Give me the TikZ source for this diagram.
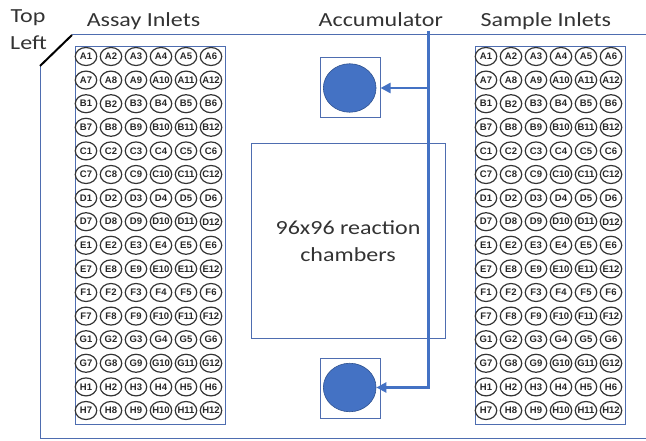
\documentclass[tikz,border=0pt]{standalone}
\usepackage{fontspec}
\setmainfont{Carlito}[FakeStretch=1.2]
\newfontfamily\lblfont{Liberation Sans}
\usetikzlibrary{arrows.meta,shapes.geometric}
\definecolor{chipblue}{HTML}{4472C4}
\definecolor{framecol}{HTML}{4E6DB0}
\definecolor{dotedge}{HTML}{2F528F}
\definecolor{wellcol}{HTML}{333333}
\newcommand\rowletter[1]{\ifcase#1 A\or B\or C\or D\or E\or F\or G\or H\fi}
\begin{document}
\begin{tikzpicture}[x=1pt,y=-1pt,
  frame/.style={draw=framecol,line width=1pt},
  plate/.style={frame,minimum width=150pt,minimum height=377pt,inner sep=0pt},
  well/.style={ellipse,draw=wellcol,line width=1.2pt,minimum width=21.5pt,minimum height=18pt,inner sep=0pt},
  welltext/.style={inner sep=0pt,font=\lblfont\bfseries\fontsize{9.5}{9.5}\selectfont,text=black!85},
  title/.style={inner sep=0pt,anchor=base,font=\fontsize{20}{27}\selectfont,text=black!80},
  accbox/.style={frame,minimum width=60pt,minimum height=60pt,inner sep=0pt},
  accdot/.style={ellipse,fill=chipblue,draw=dotedge,line width=0.6pt,minimum width=52.7pt,minimum height=48.5pt,inner sep=0pt},
  conn/.style={draw=chipblue,line width=2.3pt,-{Triangle[length=10pt,width=10pt]}},
]
\useasboundingbox (0,0) rectangle (646,441);
% outer chip outline
\coordinate (c0) at (40,66);
\coordinate (c1) at (72,35);
\coordinate (c2) at (646,35);
\coordinate (c3) at (40,438);
\coordinate (c4) at (646,438);
\draw[frame] (c1) -- (c2);
\draw[frame] (c0) -- (c3) -- (c4);
\draw[black,line width=2pt] (c0) -- (c1);
% titles
\node[title] (tTop) at (28,23) {Top};
\node[title] (tLeft) at (28.5,50) {Left};
\node[title] (tAssay) at (143.5,26.7) {Assay Inlets};
\node[title] (tAcc) at (380.8,26.7) {Accumulator};
\node[title] (tSample) at (545.8,26.7) {Sample Inlets};
% plates
\node[plate] (assay) at (150.7,235.5) {};
\node[plate] (sample) at (550.7,235.5) {};
\foreach \r in {0,...,15}{
  \foreach \c in {0,...,5}{
    \pgfmathtruncatemacro\num{\c+1+6*mod(\r,2)}
    \pgfmathtruncatemacro\li{div(\r,2)}
    \node[well] (aw-\r-\c) at ({86+25*\c},{56.5+23.6*\r}) {};
    \node[welltext] (awt-\r-\c) at (aw-\r-\c.center) {\rowletter{\li}\num};
    \node[well] (sw-\r-\c) at ({486+25*\c},{56.5+23.6*\r}) {};
    \node[welltext] (swt-\r-\c) at (sw-\r-\c.center) {\rowletter{\li}\num};
  }
}
% reaction chambers
\node[frame,minimum width=194pt,minimum height=194pt,inner sep=0pt,align=center,
      font=\fontsize{20}{27}\selectfont,text=black!80] (rc) at (348,241) {96x96 reaction\\chambers};
% accumulators
\node[accbox] (ab1) at (350,88) {};
\node[accdot] (ad1) at (349.7,88) {};
\node[accbox] (ab2) at (350,388.4) {};
\node[accdot] (ad2) at (349.7,387.5) {};
\coordinate (acctail) at (428.5,31);
\draw[conn] (acctail) |- (ab1.east);
\draw[conn] (acctail) |- (ad2.east);
\end{tikzpicture}
\end{document}
